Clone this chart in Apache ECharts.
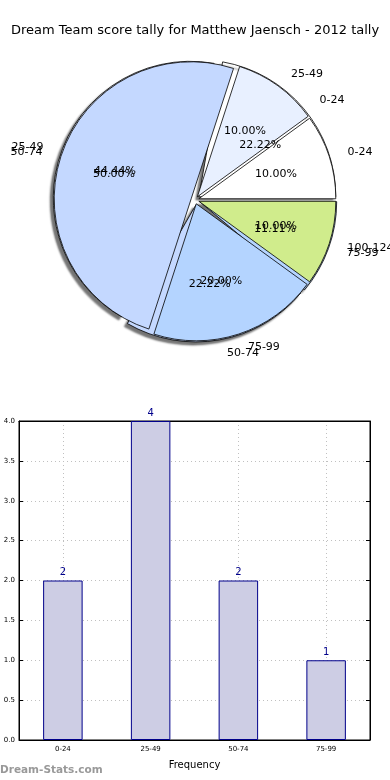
<!DOCTYPE html>
<html><head><meta charset="utf-8">
<script src="https://cdn.jsdelivr.net/npm/echarts@6/dist/echarts.min.js"></script>
<style>html,body{margin:0;padding:0;background:#fff}#c{width:390px;height:780px}</style>
</head><body><div id="c"></div>
<script>
const chartTitle = 'Dream Team score tally for Matthew Jaensch - 2012 tally';
const gameCats = ['0-24', '25-49', '50-74', '75-99'];
const gameCounts = [2, 4, 2, 1];
const tallyCats = ['0-24', '25-49', '50-74', '75-99', '100-124'];
const tallyCounts = [1, 1, 5, 2, 1];
const barCats = ['0-24', '25-49', '50-74', '75-99'];
const barValues = [2, 4, 2, 1];
const yTickStep = 0.5;
const yMax = 4;
const colorsA = ['#ffffff', '#e8f0ff', '#c4d8ff', '#b4d4ff'];
const colorsB = ['#ffffff', '#e8f0ff', '#c4d8ff', '#b4d4ff', '#d0ec8c'];

const FONT = 'DejaVu Sans';
const CX = 195, CY = 200, R = 137;

function pieData(cats, vals, colors, selected) {
  return cats.map((c, i) => ({
    name: c, value: vals[i], selected: selected,
    itemStyle: { color: colors[i] }
  }));
}
function sum(a) { return a.reduce((s, v) => s + v, 0); }
function pctFormatter(vals) {
  const total = sum(vals);
  return p => (p.value / total * 100).toFixed(2) + '%';
}

const pieBase = {
  type: 'pie', center: [CX, CY], startAngle: 0, clockwise: false,
  avoidLabelOverlap: false, silent: true, animation: false,
  selectedMode: 'multiple', labelLayout: { hideOverlap: false }
};

const series = [
  Object.assign({}, pieBase, {
    name: 'gamesFill', radius: R, selectedOffset: 5,
    data: pieData(gameCats, gameCounts, colorsA, true),
    itemStyle: { borderColor: '#000', borderWidth: 0.8, shadowColor: 'rgba(0,0,0,0.55)', shadowBlur: 2, shadowOffsetX: -3, shadowOffsetY: 3 },
    label: { show: true, position: 'outside', formatter: '{b}', fontFamily: FONT, fontSize: 11, color: '#000' },
    labelLine: { show: false, length: 14, length2: 0 }
  }),
  Object.assign({}, pieBase, {
    name: 'tallyFill', radius: R, selectedOffset: 4,
    data: pieData(tallyCats, tallyCounts, colorsB, true),
    itemStyle: { borderColor: '#000', borderWidth: 0.8 },
    label: { show: true, position: 'outside', formatter: '{b}', fontFamily: FONT, fontSize: 11, color: '#000' },
    labelLine: { show: false, length: 14, length2: 0 }
  }),
  Object.assign({}, pieBase, {
    name: 'gamesPct', radius: R * 1.2, selectedMode: false, z: 10,
    data: pieData(gameCats, gameCounts, colorsA, false).map(d => Object.assign(d, { itemStyle: { color: 'rgba(255,255,255,0)' } })),
    label: { show: true, position: 'inside', formatter: pctFormatter(gameCounts), fontFamily: FONT, fontSize: 11, color: '#000' },
    labelLine: { show: false }
  }),
  Object.assign({}, pieBase, {
    name: 'tallyPct', radius: R * 1.2, selectedMode: false, z: 10,
    data: pieData(tallyCats, tallyCounts, colorsB, false).map(d => Object.assign(d, { itemStyle: { color: 'rgba(255,255,255,0)' } })),
    label: { show: true, position: 'inside', formatter: pctFormatter(tallyCounts), fontFamily: FONT, fontSize: 11, color: '#000' },
    labelLine: { show: false }
  }),
  {
    type: 'bar', xAxisIndex: 0, yAxisIndex: 0, data: barValues, barWidth: '45%',
    animation: false, silent: true, z: 3,
    itemStyle: { color: '#cdcde4', borderColor: '#00008b', borderWidth: 1 },
    label: { show: true, position: 'top', distance: 3, color: '#00008b', fontFamily: FONT, fontSize: 10 }
  }
];

const dotted = { show: true, lineStyle: { color: '#c0c0c0', type: [1, 3], width: 1 } };

const option = {
  animation: false,
  textStyle: { fontFamily: FONT },
  title: { text: chartTitle, left: 'center', top: 19, textStyle: { fontFamily: FONT, fontSize: 13, fontWeight: 'normal', color: '#000' } },
  grid: { left: 19, right: 20, top: 421, bottom: 40, show: true, borderColor: '#000', borderWidth: 1, backgroundColor: 'transparent' },
  xAxis: [
    { type: 'category', data: barCats, position: 'bottom',
      name: 'Frequency', nameLocation: 'middle', nameGap: 20, nameTextStyle: { fontFamily: FONT, fontSize: 10, color: '#000' },
      axisLine: { onZero: false, lineStyle: { color: '#000' } },
      axisTick: { inside: true, length: 4, alignWithLabel: true, lineStyle: { color: '#000' } },
      axisLabel: { fontFamily: FONT, fontSize: 7, color: '#000', margin: 6 },
      splitLine: Object.assign({ alignWithLabel: true }, dotted) },
    { type: 'category', data: barCats, position: 'top',
      axisLine: { onZero: false, lineStyle: { color: '#000' } },
      axisTick: { inside: true, length: 4, alignWithLabel: true, lineStyle: { color: '#000' } },
      axisLabel: { show: false }, splitLine: { show: false } }
  ],
  yAxis: [
    { type: 'value', min: 0, max: yMax, interval: yTickStep,
      axisLine: { show: true, onZero: false, lineStyle: { color: '#000' } },
      axisTick: { show: true, inside: true, length: 4, lineStyle: { color: '#000' } },
      axisLabel: { fontFamily: FONT, fontSize: 7, color: '#000', margin: 4, formatter: v => v.toFixed(1) },
      splitLine: dotted },
    { type: 'value', min: 0, max: yMax, interval: yTickStep, position: 'right',
      axisLine: { show: true, onZero: false, lineStyle: { color: '#000' } },
      axisTick: { show: true, inside: true, length: 4, lineStyle: { color: '#000' } },
      axisLabel: { show: false }, splitLine: { show: false } }
  ],
  graphic: [
    { type: 'text', left: 0, top: 765, style: { text: 'Dream-Stats.com', fill: '#999999', font: 'bold 10.5px "DejaVu Sans"' } }
  ],
  series: series
};

const chart = echarts.init(document.getElementById('c'), null, { renderer: 'canvas' });
chart.setOption(option);
</script>
</body></html>
